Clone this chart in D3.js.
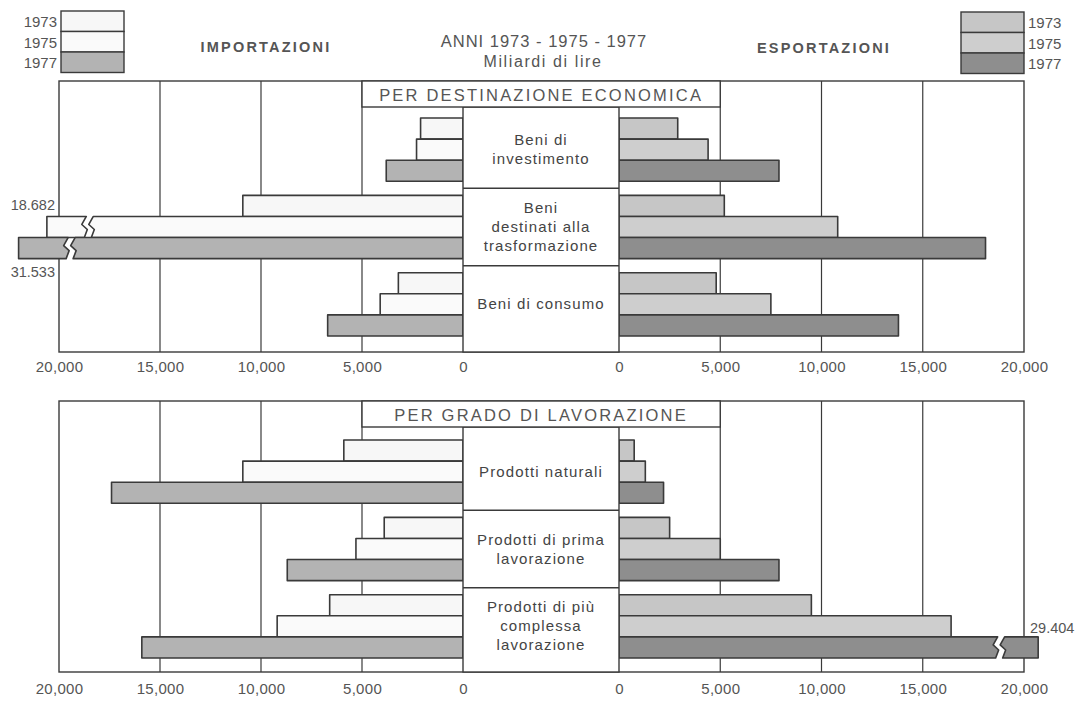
<!DOCTYPE html>
<html>
<head>
<meta charset="utf-8">
<script src="https://cdn.jsdelivr.net/npm/d3@7"></script>
<style>
  html, body { margin: 0; padding: 0; background: #fff; }
  svg { display: block; font-family: "Liberation Sans", Arial, Helvetica, sans-serif; }
</style>
</head>
<body>
<script>
// Italian foreign trade, billions of lire, by year.
const years = ["1973", "1975", "1977"];

// Upper panel: by economic destination
const categoriesTop = ["Beni di investimento", "Beni destinati alla trasformazione", "Beni di consumo"];
const labelLinesTop = [["Beni di", "investimento"], ["Beni", "destinati alla", "trasformazione"], ["Beni di consumo"]];
const importsTop1973 = [2100, 10900, 3200];
const importsTop1975 = [2300, 18682, 4100];
const importsTop1977 = [3800, 31533, 6700];
const exportsTop1973 = [2900, 5200, 4800];
const exportsTop1975 = [4400, 10800, 7500];
const exportsTop1977 = [7900, 18100, 13800];

// Lower panel: by processing stage
const categoriesBottom = ["Prodotti naturali", "Prodotti di prima lavorazione", "Prodotti di più complessa lavorazione"];
const labelLinesBottom = [["Prodotti naturali"], ["Prodotti di prima", "lavorazione"], ["Prodotti di più", "complessa", "lavorazione"]];
const importsBottom1973 = [5900, 3900, 6600];
const importsBottom1975 = [10900, 5300, 9200];
const importsBottom1977 = [17400, 8700, 15900];
const exportsBottom1973 = [750, 2500, 9500];
const exportsBottom1975 = [1300, 5000, 16400];
const exportsBottom1977 = [2200, 7900, 29404];

const tickValues = [0, 5000, 10000, 15000, 20000];
const tickLabels = ["0", "5,000", "10,000", "15,000", "20,000"];

// colours per year
const importColors = ["#f7f7f7", "#fafafa", "#b3b3b3"];
const exportColors = ["#c6c6c6", "#cecece", "#8e8e8e"];
const ink = "#3a3a3a";
const textInk = "#555";

const W = 1089, H = 701;
const svg = d3.select("body").append("svg").attr("width", W).attr("height", H);

const xImp = d3.scaleLinear().domain([0, 20000]).range([463, 59]);
const xExp = d3.scaleLinear().domain([0, 20000]).range([619, 1024]);

const itFmt = d3.formatLocale({ decimal: ",", thousands: ".", grouping: [3], currency: ["", ""] }).format(",d");

// bars longer than this are drawn with a break and labelled with their value
const breakThreshold = 18500;
const breakCutImp = [19000, 18400, 19300];
const breakTipImp = [21000, 20600, 22000];
const breakCutExp = [18600, 18600, 18600];
const breakTipExp = [20700, 20700, 20700];

const panels = [
  {
    title: "PER DESTINAZIONE ECONOMICA", top: 81, titleBottom: 107, bandTop: 118, bandBottom: 336, bottom: 352, axisY: 361,
    cats: categoriesTop, lines: labelLinesTop,
    imp: [importsTop1973, importsTop1975, importsTop1977],
    exp: [exportsTop1973, exportsTop1975, exportsTop1977]
  },
  {
    title: "PER GRADO DI LAVORAZIONE", top: 401, titleBottom: 427, bandTop: 440, bandBottom: 658, bottom: 672, axisY: 683,
    cats: categoriesBottom, lines: labelLinesBottom,
    imp: [importsBottom1973, importsBottom1975, importsBottom1977],
    exp: [exportsBottom1973, exportsBottom1975, exportsBottom1977]
  }
];

// zigzag edge offsets (fraction of height, x offset)
const zigOffsets = [[0, 2], [0.38, -2.5], [0.62, 3], [1, 0]];
function zig(c, y0, h) {
  return zigOffsets.map(([t, dx]) => [c + dx, y0 + t * h]);
}

panels.forEach(p => {
  const g = svg.append("g");

  const y = d3.scaleBand().domain(p.cats).range([p.bandTop, p.bandBottom]).paddingInner(0.182);
  const yYear = d3.scaleBand().domain(years).range([0, y.bandwidth()]);

  // outer frame
  g.append("rect")
    .attr("x", xImp(20000)).attr("y", p.top)
    .attr("width", xExp(20000) - xImp(20000)).attr("height", p.bottom - p.top)
    .attr("fill", "#fff").attr("stroke", ink).attr("stroke-width", 1.4);

  // vertical grid lines
  const inner = tickValues.filter(v => v > 0 && v < 20000);
  g.selectAll(".gl").data(inner).join("line")
    .attr("x1", d => xImp(d)).attr("x2", d => xImp(d))
    .attr("y1", p.top).attr("y2", p.bottom)
    .attr("stroke", ink).attr("stroke-width", 1.2);
  g.selectAll(".gr").data(inner).join("line")
    .attr("x1", d => xExp(d)).attr("x2", d => xExp(d))
    .attr("y1", p.top).attr("y2", p.bottom)
    .attr("stroke", ink).attr("stroke-width", 1.2);

  // bars
  const sides = [
    { key: "imp", scale: xImp, colors: importColors, cut: breakCutImp, tip: breakTipImp },
    { key: "exp", scale: xExp, colors: exportColors, cut: breakCutExp, tip: breakTipExp }
  ];
  sides.forEach(s => {
    years.forEach((yr, yi) => {
      const vals = p[s.key][yi];
      p.cats.forEach((cat, ci) => {
        const v = vals[ci];
        const y0 = y(cat) + yYear(yr);
        const h = yYear.bandwidth();
        const x0 = s.scale(0);
        const style = sel => sel.attr("fill", s.colors[yi]).attr("stroke", ink)
          .attr("stroke-width", 1.6).attr("stroke-linejoin", "round");
        if (v > breakThreshold) {
          const c = s.scale(s.cut[yi]);
          const dir = s.scale(1000) > s.scale(0) ? 1 : -1;
          const tip = s.scale(s.tip[yi]);
          const main = [[x0, y0], ...zig(c, y0, h), [x0, y0 + h]];
          const stub = [[tip, y0], ...zig(c + dir * 7, y0, h), [tip, y0 + h]];
          g.append("path").attr("d", d3.line()(main) + "Z").call(style);
          g.append("path").attr("d", d3.line()(stub) + "Z").call(style);
          // value label
          const lbl = g.append("text").text(itFmt(v))
            .attr("font-size", 14.5).attr("fill", textInk);
          if (s.key === "imp") {
            lbl.attr("text-anchor", "end").attr("x", 55)
              .attr("y", yi === 1 ? y0 - 6 : y0 + h + 18);
          } else {
            lbl.attr("text-anchor", "start").attr("x", 1030).attr("y", y0 - 4);
          }
        } else {
          const x1 = s.scale(v);
          g.append("rect")
            .attr("x", Math.min(x0, x1)).attr("y", y0)
            .attr("width", Math.abs(x1 - x0)).attr("height", h)
            .call(style);
        }
      });
    });
  });

  // central category column
  const cx0 = xImp(0), cx1 = xExp(0);
  g.append("rect")
    .attr("x", cx0).attr("y", p.titleBottom)
    .attr("width", cx1 - cx0).attr("height", p.bottom - p.titleBottom)
    .attr("fill", "#fff").attr("stroke", ink).attr("stroke-width", 1.4);
  const step = y.step();
  const gap = step - y.bandwidth();
  g.selectAll(".sep").data(p.cats.slice(1)).join("line")
    .attr("x1", cx0).attr("x2", cx1)
    .attr("y1", d => y(d) - gap / 2).attr("y2", d => y(d) - gap / 2)
    .attr("stroke", ink).attr("stroke-width", 1.4);

  p.cats.forEach((cat, ci) => {
    const lines = p.lines[ci];
    const mid = y(cat) + y.bandwidth() / 2;
    const lh = 19;
    const t = g.append("text").attr("text-anchor", "middle")
      .attr("font-size", 15).attr("letter-spacing", 1.1).attr("fill", "#444");
    lines.forEach((ln, li) => {
      t.append("tspan").attr("x", (cx0 + cx1) / 2)
        .attr("y", mid + 5 + (li - (lines.length - 1) / 2) * lh)
        .text(ln);
    });
  });

  // panel title box
  g.append("rect")
    .attr("x", xImp(5000)).attr("y", p.top)
    .attr("width", xExp(5000) - xImp(5000)).attr("height", p.titleBottom - p.top)
    .attr("fill", "#fff").attr("stroke", ink).attr("stroke-width", 1.4);
  g.append("text").attr("x", (xImp(5000) + xExp(5000)) / 2).attr("y", p.titleBottom - 6)
    .attr("text-anchor", "middle").attr("font-size", 16.5).attr("letter-spacing", 2.2)
    .attr("fill", textInk).text(p.title);

  // axes
  [xImp, xExp].forEach(sc => {
    const ax = d3.axisBottom(sc).tickValues(tickValues).tickSize(0).tickPadding(0)
      .tickFormat((d, i) => tickLabels[i]);
    const a = g.append("g").attr("transform", `translate(0,${p.axisY})`).call(ax);
    a.select(".domain").remove();
    a.selectAll("text").attr("font-size", 15).attr("fill", textInk)
      .attr("font-family", "'Liberation Sans', Arial, sans-serif").attr("letter-spacing", 0.3);
  });
});

// headings
svg.append("text").attr("x", 266).attr("y", 52).attr("text-anchor", "middle")
  .attr("font-size", 14.5).attr("font-weight", "bold").attr("letter-spacing", 2.2)
  .attr("fill", textInk).text("IMPORTAZIONI");
svg.append("text").attr("x", 824).attr("y", 53).attr("text-anchor", "middle")
  .attr("font-size", 14.5).attr("font-weight", "bold").attr("letter-spacing", 2.2)
  .attr("fill", textInk).text("ESPORTAZIONI");
svg.append("text").attr("x", 544).attr("y", 47).attr("text-anchor", "middle")
  .attr("font-size", 16.5).attr("letter-spacing", 1).attr("fill", textInk)
  .text("ANNI  1973 - 1975 - 1977");
svg.append("text").attr("x", 543).attr("y", 67).attr("text-anchor", "middle")
  .attr("font-size", 16).attr("letter-spacing", 1.6).attr("fill", textInk)
  .text("Miliardi di lire");

// legends
function legend(x, top, colors, labelX, anchor) {
  const lg = svg.append("g");
  const rowH = 20.5;
  years.forEach((yr, i) => {
    lg.append("rect").attr("x", x).attr("y", top + i * rowH)
      .attr("width", 63).attr("height", rowH)
      .attr("fill", colors[i]).attr("stroke", ink).attr("stroke-width", 1.4);
    lg.append("text").attr("x", labelX).attr("y", top + i * rowH + 16)
      .attr("text-anchor", anchor).attr("font-size", 15).attr("fill", textInk).text(yr);
  });
}
legend(61, 11, importColors, 57, "end");
legend(961, 12, exportColors, 1028, "start");
</script>
</body>
</html>
